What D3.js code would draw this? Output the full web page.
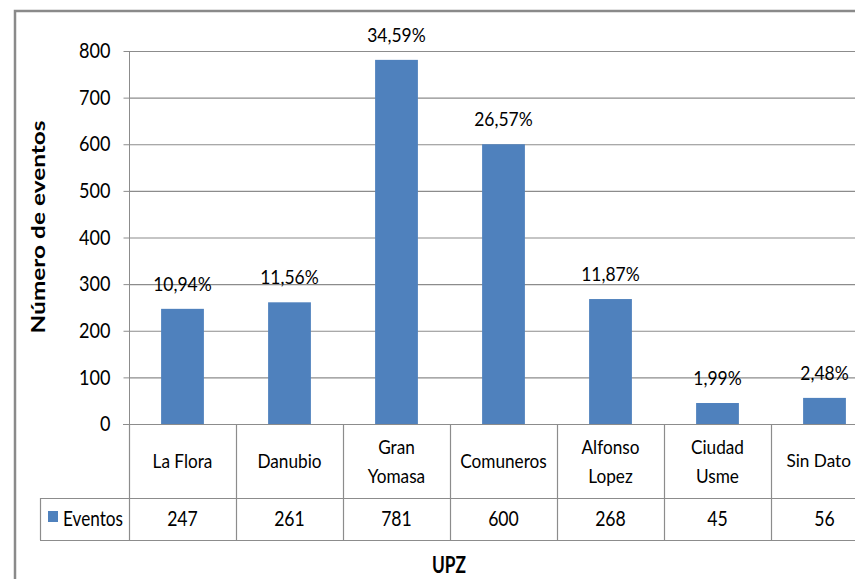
<!DOCTYPE html>
<html><head><meta charset="utf-8">
<script src="https://cdn.jsdelivr.net/npm/d3@7"></script>
<style>body{margin:0;background:#fff}svg{display:block}text{font-family:Lato,"Open Sans",sans-serif;fill:#000}</style>
</head><body><svg id="c" width="855" height="579"></svg>
<script>
const categories = [["La Flora"],["Danubio"],["Gran","Yomasa"],["Comuneros"],["Alfonso","Lopez"],["Ciudad","Usme"],["Sin Dato"]];
const eventos = [247, 261, 781, 600, 268, 45, 56];
const percents = [10.94, 11.56, 34.59, 26.57, 11.87, 1.99, 2.48];
const yTicks = [0, 100, 200, 300, 400, 500, 600, 700, 800];
const seriesName = "Eventos";

(function(){
const svg = d3.select("#c");
const W = 855, H = 579;
const plotLeft = 129, plotTop = 51, plotBottom = 424, colW = 107;
const keys = categories.map((c,i)=>i);
const x = d3.scaleBand().domain(keys).range([plotLeft, plotLeft + colW*keys.length]).padding(0);
const y = d3.scaleLinear().domain([0, 800]).range([plotBottom, plotTop]);
const grid = "#8c8c8c";

function condense(sel, k){
  sel.each(function(){
    const L = this.getComputedTextLength();
    d3.select(this).attr("textLength", L*k).attr("lengthAdjust","spacingAndGlyphs");
  });
}
function keepInside(sel, m){
  sel.each(function(){
    const L = this.getComputedTextLength();
    const cx = +d3.select(this).attr("x");
    if (cx + L/2 > W - m) d3.select(this).attr("x", W - m - L/2);
  });
}

// outer frame
svg.append("rect").attr("x",15).attr("y",11).attr("width",W+20).attr("height",H+20)
  .attr("fill","none").attr("stroke","#8a8a8a").attr("stroke-width",2.5);

// gridlines
svg.append("g").selectAll("line").data(yTicks.filter(d=>d>0)).join("line")
  .attr("x1", plotLeft).attr("x2", W+10).attr("y1", d=>y(d)+0.5).attr("y2", d=>y(d)+0.5)
  .attr("stroke", grid).attr("stroke-width",1.2);

// y axis
const yAxis = d3.axisLeft(y).tickValues(yTicks).tickSize(6).tickPadding(13);
const ga = svg.append("g").attr("transform",`translate(${plotLeft+0.5},0)`).call(yAxis);
ga.select(".domain").attr("stroke",grid).attr("d",`M0,${plotTop}V${plotBottom}`);
ga.selectAll(".tick line").attr("stroke",grid);
ga.selectAll(".tick text").attr("font-size",21).attr("font-family","Lato,sans-serif").attr("fill","#111");
condense(ga.selectAll(".tick text"), 0.86);

// bars
const bw = x.bandwidth()*0.4;
svg.append("g").selectAll("rect").data(eventos).join("rect")
  .attr("x",(d,i)=>x(i)+(x.bandwidth()-bw)/2).attr("width",bw)
  .attr("y",d=>y(d)).attr("height",d=>y(0)-y(d)).attr("fill","#4F81BD");

// percent labels
const fmt = v => d3.format(".2f")(v).replace(".",",") + "%";
const pl = svg.append("g").selectAll("text").data(percents).join("text")
  .attr("x",(d,i)=>x(i)+x.bandwidth()/2).attr("y",(d,i)=>y(eventos[i])-18)
  .attr("text-anchor","middle").attr("font-size",19).attr("fill","#111").text(d=>fmt(d));
keepInside(pl, 2);
condense(pl, 0.92);

// baseline
svg.append("line").attr("x1",plotLeft-6).attr("x2",W+10).attr("y1",plotBottom+0.5).attr("y2",plotBottom+0.5).attr("stroke",grid).attr("stroke-width",1.2);

// data table
const rowY1 = 498, rowY2 = 540, tableLeft = 40;
const tg = svg.append("g");
tg.selectAll("line.v").data(keys.concat([keys.length])).join("line")
  .attr("x1",i=>plotLeft + i*colW+0.5).attr("x2",i=>plotLeft+i*colW+0.5)
  .attr("y1",plotBottom).attr("y2",rowY2).attr("stroke",grid).attr("stroke-width",1.2);
tg.append("line").attr("x1",tableLeft).attr("x2",W+10).attr("y1",rowY1+0.5).attr("y2",rowY1+0.5).attr("stroke",grid).attr("stroke-width",1.2);
tg.append("line").attr("x1",tableLeft).attr("x2",W+10).attr("y1",rowY2+0.5).attr("y2",rowY2+0.5).attr("stroke",grid).attr("stroke-width",1.2);
tg.append("line").attr("x1",tableLeft+0.5).attr("x2",tableLeft+0.5).attr("y1",rowY1).attr("y2",rowY2).attr("stroke",grid).attr("stroke-width",1.2);

// category labels: one text element per line, condensed; lines that would reach
// the right edge get a smaller real font size instead of glyph squeezing
const catLines = [];
categories.forEach((d,i)=>d.forEach((s,k)=>catLines.push({s, i, k, n:d.length})));
const cy = (plotBottom+rowY1)/2, lh = 29;
const cl = svg.append("g").selectAll("text").data(catLines).join("text")
  .attr("x",d=>x(d.i)+x.bandwidth()/2)
  .attr("y",d=>cy + (d.k - (d.n-1)/2)*lh).attr("dy","0.35em")
  .attr("text-anchor","middle").attr("font-size",20).attr("fill","#111").text(d=>d.s);
cl.each(function(){
  const t = d3.select(this);
  const L = this.getComputedTextLength();
  const cx = +t.attr("x");
  if (cx + L*0.86/2 > W - 6) {
    t.attr("font-size", 20*0.86);
    const L2 = this.getComputedTextLength();
    t.attr("x", Math.min(cx, W - 4 - L2/2));
    t.classed("nocond", true);
  }
});
condense(cl.filter(function(){ return !d3.select(this).classed("nocond"); }), 0.86);

// values row
const vr = svg.append("g").selectAll("text").data(eventos).join("text")
  .attr("x",(d,i)=>x(i)+x.bandwidth()/2).attr("y",(rowY1+rowY2)/2).attr("dy","0.35em")
  .attr("text-anchor","middle").attr("font-size",21).attr("fill","#111").text(d=>d);
condense(vr, 0.84);

// legend key
svg.append("rect").attr("x",48).attr("y",511).attr("width",10).attr("height",11).attr("fill","#4F81BD");
const lg = svg.append("text").attr("x",63).attr("y",(rowY1+rowY2)/2).attr("dy","0.35em").attr("font-size",21).attr("fill","#111").text(seriesName);
lg.attr("textLength",60).attr("lengthAdjust","spacingAndGlyphs");

// axis titles
svg.append("text").attr("transform",`translate(45,227) rotate(-90)`).attr("text-anchor","middle")
  .attr("font-size",18).attr("font-weight","bold").attr("textLength",213).attr("lengthAdjust","spacingAndGlyphs").text("Número de eventos");
svg.append("text").attr("x",449).attr("y",565).attr("dy","0.35em").attr("text-anchor","middle")
  .attr("font-size",22).attr("font-weight","bold").attr("textLength",34).attr("lengthAdjust","spacingAndGlyphs").text("UPZ");
})();
</script></body></html>
